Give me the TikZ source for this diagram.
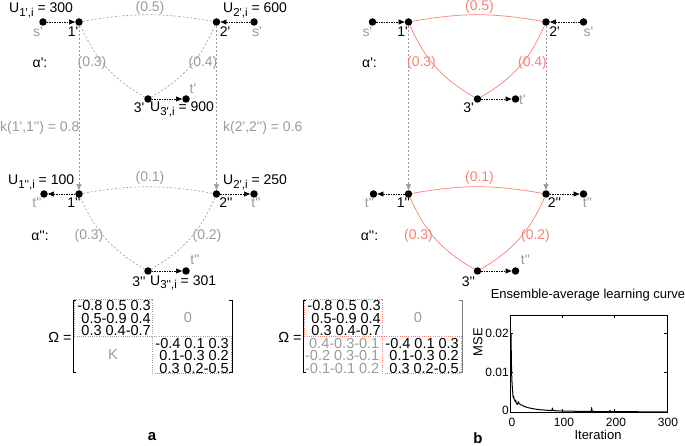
\documentclass[tikz,border=0pt]{standalone}
\usepackage{fontspec}
\newfontfamily\arial{Liberation Sans}
\usetikzlibrary{arrows.meta}
\definecolor{greytxt}{RGB}{155,155,155}
\definecolor{salmonline}{RGB}{250,128,114}
\newcommand{\lowsub}[1]{\raisebox{-0.45ex}{\fontsize{11.5}{12}\selectfont #1}}

\begin{document}
\begin{tikzpicture}[x=1pt,y=-1pt,
  font=\arial\fontsize{14}{16}\selectfont,
  every node/.style={inner sep=0pt},
  dot/.style={circle,fill=black,minimum size=7.5pt},
  grey/.style={text=greytxt},
  red/.style={text=salmonline},
  mtx/.style={font=\arial\fontsize{14.5}{12.5}\selectfont,align=right,anchor=north east},
  axl/.style={font=\arial\fontsize{13}{15}\selectfont},
  tkl/.style={font=\arial\fontsize{12}{14}\selectfont},
  flow/.style={black,line width=0.6pt,dash pattern=on 1.5pt off 1pt,-{Triangle[length=6pt,width=5pt]}},
  greyedge/.style={greytxt,line width=0.6pt,dash pattern=on 2pt off 2pt},
  redge/.style={salmonline,line width=0.7pt},
  kline/.style={greytxt,line width=0.6pt,dash pattern=on 2pt off 2pt,-{Triangle[length=6pt,width=5pt]}},
  gbox/.style={greytxt,line width=0.6pt,dash pattern=on 1pt off 1.2pt},
  rbox/.style={salmonline,line width=0.6pt,dash pattern=on 1pt off 1.2pt}]
\useasboundingbox (0,0) rectangle (685,446);

% panel a, upper graph
\node[dot] (sa1) at (43,22) {};
\node[dot] (na1) at (79,22) {};
\node[dot] (na2) at (216.5,22) {};
\node[dot] (sa2) at (254,22) {};
\node[dot] (na3) at (148,99) {};
\node[dot] (ta3) at (186,99) {};
% panel a, lower graph
\node[dot] (ua1) at (44,194) {};
\node[dot] (ma1) at (79,194) {};
\node[dot] (ma2) at (216.5,194) {};
\node[dot] (ua2) at (254,194) {};
\node[dot] (ma3) at (148,271) {};
\node[dot] (ua3) at (186,271) {};

\draw[greyedge] (na1) to[bend left=10] (na2);
\draw[greyedge] (na1) to[bend right=18] (na3);
\draw[greyedge] (na2) to[bend left=18] (na3);
\draw[greyedge] (ma1) to[bend left=10] (ma2);
\draw[greyedge] (ma1) to[bend right=18] (ma3);
\draw[greyedge] (ma2) to[bend left=18] (ma3);
\draw[flow] (sa1) -- (na1);
\draw[flow] (sa2) -- (na2);
\draw[flow] (na3) -- (ta3);
\draw[flow] (ma1) -- (ua1);
\draw[flow] (ma2) -- (ua2);
\draw[flow] (ma3) -- (ua3);
\draw[kline] (na1) -- (ma1);
\draw[kline] (na2) -- (ma2);

\node[anchor=base west] (ua1l) at (9,13) {U\lowsub{1',i} = 300};
\node[anchor=base west] (ua2l) at (223,13) {U\lowsub{2',i} = 600};
\node[grey] (wa12) at (150,8) {(0.5)};
\node[grey] (sa1l) at (38,32) {s'};
\node (na1l) at (73,32) {1'};
\node (na2l) at (225,32) {2'};
\node[grey] (sa2l) at (257,32) {s'};
\node (alpa) at (40,63) {α':};
\node[grey] (wa13) at (92,63) {(0.3)};
\node[grey] (wa23) at (203,63) {(0.4)};
\node[grey] (ta3l) at (193,89) {t'};
\node (na3l) at (139,108) {3'};
\node[anchor=base west] (ua3l) at (150,112) {U\lowsub{3',i} = 900};
\node[grey,anchor=west] (ka1) at (0,128) {k(1',1'') = 0.8};
\node[grey,anchor=west] (ka2) at (223,128) {k(2',2'') = 0.6};

\node[anchor=base west] (ub1l) at (8,185) {U\lowsub{1'',i} = 100};
\node[anchor=base west] (ub2l) at (223,185) {U\lowsub{2',i} = 250};
\node[grey] (wb12) at (150,178) {(0.1)};
\node[grey] (ua1l) at (37,203) {t''};
\node (ma1l) at (74,203) {1''};
\node (ma2l) at (226,203) {2''};
\node[grey] (ua2l) at (256,203) {t''};
\node (alpb) at (40,236) {α'':};
\node[grey] (wb13) at (89,236) {(0.3)};
\node[grey] (wb23) at (207,236) {(0.2)};
\node[grey] (ua3l) at (195,260) {t''};
\node (ma3l) at (139,282) {3''};
\node[anchor=base west] (ub3l) at (150,285) {U\lowsub{3'',i} = 301};

% panel b, same graphs in red
\begin{scope}[xshift=329.5pt]
\node[dot] (sb1) at (43,22) {};
\node[dot] (nb1) at (79,22) {};
\node[dot] (nb2) at (216.5,22) {};
\node[dot] (sb2) at (254,22) {};
\node[dot] (nb3) at (148,99) {};
\node[dot] (tb3) at (186,99) {};
\node[dot] (vb1) at (44,194) {};
\node[dot] (mb1) at (79,194) {};
\node[dot] (mb2) at (216.5,194) {};
\node[dot] (vb2) at (254,194) {};
\node[dot] (mb3) at (148,271) {};
\node[dot] (vb3) at (186,271) {};

\draw[redge] (nb1) to[bend left=10] (nb2);
\draw[redge] (nb1) to[bend right=18] (nb3);
\draw[redge] (nb2) to[bend left=18] (nb3);
\draw[redge] (mb1) to[bend left=10] (mb2);
\draw[redge] (mb1) to[bend right=18] (mb3);
\draw[redge] (mb2) to[bend left=18] (mb3);
\draw[flow] (sb1) -- (nb1);
\draw[flow] (sb2) -- (nb2);
\draw[flow] (nb3) -- (tb3);
\draw[flow] (mb1) -- (vb1);
\draw[flow] (mb2) -- (vb2);
\draw[flow] (mb3) -- (vb3);
\draw[kline] (nb1) -- (mb1);
\draw[kline] (nb2) -- (mb2);

\node[red] (wc12) at (150,7) {(0.5)};
\node[grey] (sb1l) at (38,32) {s'};
\node (nb1l) at (73,32) {1'};
\node (nb2l) at (225,32) {2'};
\node[grey] (sb2l) at (259,32) {s'};
\node (alpc) at (40,63) {α':};
\node[red] (wc13) at (92,63) {(0.3)};
\node[red] (wc23) at (203,63) {(0.4)};
\node (nb3l) at (139,108) {3'};
\node[grey] (tb3l) at (193,100) {t'};
\node[red] (wd12) at (150,178) {(0.1)};
\node[grey] (vb1l) at (40,203) {t''};
\node (mb1l) at (74,203) {1''};
\node (mb2l) at (225,203) {2''};
\node[grey] (vb2l) at (258,203) {t''};
\node (alpd) at (40,236) {α'':};
\node[red] (wd13) at (89,236) {(0.3)};
\node[red] (wd23) at (206,236) {(0.2)};
\node[grey] (vb3l) at (196,260) {t''};
\node (mb3l) at (139,282) {3''};
\end{scope}

% matrix a
\node[font=\arial\fontsize{14.5}{16}\selectfont] (oma) at (60,337) {Ω =};
\draw[line width=0.6pt] (76,300) -- (73,300) -- (73,372) -- (76,372);
\draw[line width=0.6pt] (229,300) -- (232,300) -- (232,372) -- (229,372);
\draw[gbox] (74,299) rectangle (152,336);
\draw[gbox] (152,336) rectangle (231,373);
\node[mtx] (bka1) at (151,300.5) {-0.8 0.5 0.3\\0.5-0.9 0.4\\0.3 0.4-0.7};
\node[mtx] (bka2) at (229,338) {-0.4 0.1 0.3\\0.1-0.3 0.2\\0.3 0.2-0.5};
\node[grey,font=\arial\fontsize{14.5}{16}\selectfont] (za) at (188,318) {0};
\node[grey,font=\arial\fontsize{14.5}{16}\selectfont] (ka) at (113,355) {K};

% matrix b
\node[font=\arial\fontsize{14.5}{16}\selectfont] (omb) at (290,337) {Ω =};
\draw[line width=0.6pt] (306,300) -- (303,300) -- (303,372) -- (306,372);
\draw[line width=0.6pt,greytxt!80!black] (459,300) -- (462,300) -- (462,372) -- (459,372);
\draw[rbox] (304,299) rectangle (382,336);
\draw[rbox] (382,336) rectangle (461,373);
\node[mtx] (bkb1) at (381,300.5) {-0.8 0.5 0.3\\0.5-0.9 0.4\\0.3 0.4-0.7};
\node[mtx,grey] (bkb3) at (379.5,338) {0.4-0.3-0.1\\-0.2 0.3-0.1\\-0.1-0.1 0.2};
\node[mtx] (bkb2) at (459,338) {-0.4 0.1 0.3\\0.1-0.3 0.2\\0.3 0.2-0.5};
\node[grey,font=\arial\fontsize{14.5}{16}\selectfont] (zb) at (418,318) {0};

% learning curve
\node[axl] (ttl) at (588,295) {Ensemble-average learning curve};
\draw[line width=0.6pt] (510,315) rectangle (667,412);
\foreach \xx in {562.3,614.7} {
  \draw[line width=0.5pt] (\xx,412) -- ++(0,-3);
  \draw[line width=0.5pt] (\xx,315) -- ++(0,3);
}
\foreach \yy in {372.5,333} {
  \draw[line width=0.5pt] (510,\yy) -- ++(3,0);
  \draw[line width=0.5pt] (667,\yy) -- ++(-3,0);
}
\node[tkl,anchor=east] (y2) at (509,333) {0.02};
\node[tkl,anchor=east] (y1) at (509,372.5) {0.01};
\node[tkl,anchor=east] (y0) at (509,410) {0};
\node[tkl] (x0) at (512,422) {0};
\node[tkl] (x1) at (564,422) {100};
\node[tkl] (x2) at (616,422) {200};
\node[tkl] (x3) at (668,422) {300};
\node[axl] (xl) at (598,435) {Iteration};
\node[axl,rotate=90] (yl) at (478,342) {MSE};
\begin{scope}[shift={(510,412)},x=0.5233pt,y=3.95pt]
\draw[line width=1pt,line join=round] plot coordinates {(2,20) (2.6,13) (3.2,9.5) (4,7) (4.6,6) (5.2,5) (6,3.6) (7,4) (8,3.2) (9,3) (10,2.6) (11,3) (12,2.2) (13,2.1) (14,1.9) (16,2.6) (17,2.2) (19,2.0) (21,1.8) (24,1.7) (27,1.4) (30,1.3) (34,1.1) (38,1.0) (42,0.9) (46,0.8) (50,0.7) (55,0.6) (60,0.55) (65,0.5) (70,0.45) (75,0.4) (80,0.35) (81,1.0) (82,0.35) (90,0.3) (100,0.25) (110,0.2) (120,0.2) (135,0.15) (150,0.15) (155,0.15) (156,1.1) (157,0.15) (170,0.1) (190,0.1) (191,0.4) (192,0.1) (220,0.08) (250,0.06) (280,0.05) (300,0.05)};
\end{scope}

\node[font=\arial\bfseries\fontsize{15}{17}\selectfont] (pa) at (152,437) {a};
\node[font=\arial\bfseries\fontsize{15}{17}\selectfont] (pb) at (478,438) {b};
\end{tikzpicture}
\end{document}
